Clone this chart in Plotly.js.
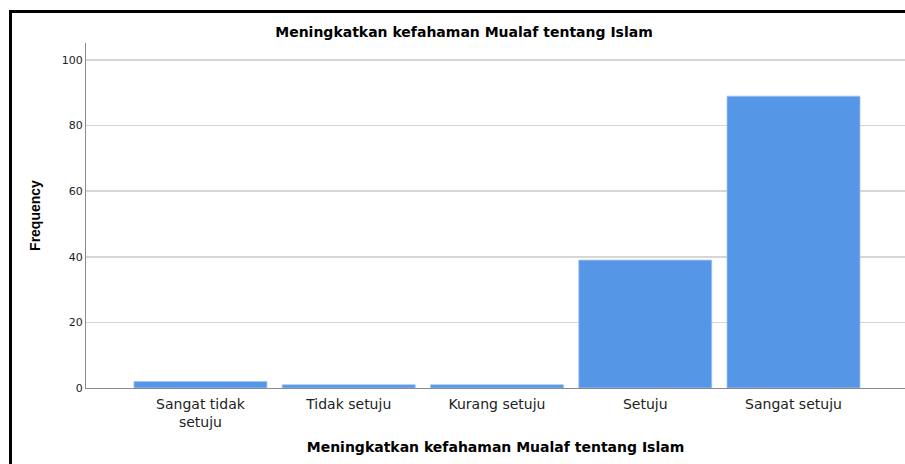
<!DOCTYPE html>
<html>
<head>
<meta charset="utf-8">
<script src="https://cdn.plot.ly/plotly-3.0.1.min.js"></script>
<style>
  html, body { margin: 0; padding: 0; background: #fff; overflow: hidden; }
  #wrap { position: relative; width: 905px; height: 464px; overflow: hidden; }
  #chart { position: absolute; left: 0; top: 0; width: 905px; height: 464px; }
  .frame { position: absolute; background: #000; pointer-events: none; }
  #frameTop { left: 9px; top: 10px; width: 896px; height: 3px; }
  #frameLeft { left: 9px; top: 10px; width: 3px; height: 454px; }
</style>
</head>
<body>
<div id="wrap">
  <div id="chart"></div>
  <div class="frame" id="frameTop"></div>
  <div class="frame" id="frameLeft"></div>
</div>
<script>
const chartTitle = 'Meningkatkan kefahaman Mualaf tentang Islam';
const xTitle = 'Meningkatkan kefahaman Mualaf tentang Islam';
const yTitle = 'Frequency';
const categories = ['Sangat tidak<br>setuju', 'Tidak setuju', 'Kurang setuju', 'Setuju', 'Sangat setuju'];
const frequency = [2, 1, 1, 39, 89];
const yTickVals = [0, 20, 40, 60, 80, 100];

const trace = {
  type: 'bar',
  x: categories,
  y: frequency,
  marker: { color: '#5596e6', line: { color: '#a3c4f0', width: 0.8 } },
  hoverinfo: 'x+y'
};

const layout = {
  width: 905,
  height: 464,
  margin: { l: 86, r: 0, t: 43, b: 76, pad: 0 },
  paper_bgcolor: '#ffffff',
  plot_bgcolor: '#ffffff',
  showlegend: false,
  bargap: 0.103,
  font: { family: 'DejaVu Sans, sans-serif', color: '#222222' },
  title: {
    text: '<b>' + chartTitle + '</b>',
    font: { family: 'DejaVu Sans, sans-serif', size: 14, color: '#000000' },
    xref: 'container', x: 464 / 905, xanchor: 'center',
    yref: 'container', y: 1 - 32 / 464, yanchor: 'middle'
  },
  xaxis: {
    type: 'category',
    range: [-0.772, 4.752],
    showline: true, linecolor: '#8a8a8a', linewidth: 1,
    showgrid: false, zeroline: false,
    ticks: '',
    ticklabelstandoff: 3,
    tickfont: { family: 'DejaVu Sans, sans-serif', size: 14, color: '#222222' },
    automargin: false,
    title: {
      text: '<b>' + xTitle + '</b>',
      standoff: 13,
      font: { family: 'DejaVu Sans, sans-serif', size: 14, color: '#000000' }
    }
  },
  yaxis: {
    range: [0, 105.2],
    tickvals: yTickVals,
    showline: true, linecolor: '#8a8a8a', linewidth: 1,
    showgrid: true, gridcolor: '#d6d6d6', gridwidth: 1.5,
    zeroline: false,
    ticks: '',
    tickfont: { family: 'DejaVu Sans, sans-serif', size: 11, color: '#222222' },
    automargin: false,
    title: {
      text: '<b>' + yTitle + '</b>',
      standoff: 17,
      font: { family: 'Liberation Sans, Arial, sans-serif', size: 14, color: '#000000' }
    }
  }
};

Plotly.newPlot('chart', [trace], layout, { displayModeBar: false, staticPlot: true });
</script>
</body>
</html>
